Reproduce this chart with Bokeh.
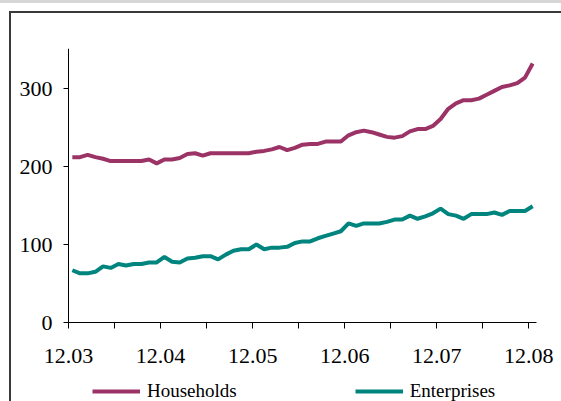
from bokeh.plotting import figure
from bokeh.models import FixedTicker, Legend, LegendItem, Range1d
from bokeh.embed import file_html
from bokeh.resources import INLINE

tick_labels = ["12.03", "12.04", "12.05", "12.06", "12.07", "12.08"]

households = [212, 212, 215, 212, 210, 207, 207, 207, 207, 207, 209, 204, 209, 209, 211, 216,
              217, 214, 217, 217, 217, 217, 217, 217, 219, 220, 222, 225, 221, 224, 228, 229,
              229, 232, 232, 232, 240, 244, 246, 244, 241, 238, 237, 239, 245, 248, 248, 252,
              261, 274, 281, 285, 285, 287, 292, 297, 302, 304, 307, 314, 332]

enterprises = [67, 63, 63, 65, 72, 70, 75, 73, 75, 75, 77, 77, 84, 78, 77, 82,
               83, 85, 85, 81, 87, 92, 94, 94, 100, 94, 96, 96, 97, 102, 104, 104,
               108, 111, 114, 117, 127, 124, 127, 127, 127, 129, 132, 132, 137, 133, 136, 140,
               146, 139, 137, 133, 139, 139, 139, 141, 138, 143, 143, 143, 149]

months = [i + 0.5 for i in range(len(households))]
N_CAT = len(households)

W, H = 561, 401
FRAME_LEFT, FRAME_TOP = 12, 48
AXIS_X0, AXIS_X1 = 68, 536
PX_X = (AXIS_X1 - AXIS_X0) / N_CAT
PX_Y = 0.78
Y_TOP = 351.3
Y_BOTTOM = Y_TOP - (H - FRAME_TOP) / PX_Y
X_LEFT = -(AXIS_X0 - FRAME_LEFT) / PX_X
X_RIGHT = N_CAT + (W - AXIS_X1) / PX_X

p = figure(width=W, height=H, output_backend="svg", toolbar_location=None,
           x_range=Range1d(X_LEFT, X_RIGHT), y_range=Range1d(Y_BOTTOM, Y_TOP),
           min_border_left=FRAME_LEFT, min_border_right=0, min_border_top=FRAME_TOP,
           min_border_bottom=0)
p.outline_line_color = None
p.xgrid.visible = False
p.ygrid.visible = False
p.background_fill_color = "white"
p.border_fill_alpha = 0
p.styles = {
    "background": ("linear-gradient(#d6d6d6, #d6d6d6) 0px 0px / 100% 3px no-repeat, "
                   "linear-gradient(#3a3a3a, #3a3a3a) 9px 11px / 2px 100% no-repeat, "
                   "linear-gradient(#3a3a3a, #3a3a3a) 9px 11px / 100% 2px no-repeat, "
                   "white")
}

r1 = p.line(months, households, line_color="#9B3366", line_width=4)
r2 = p.line(months, enterprises, line_color="#00847E", line_width=4)

font = "Liberation Serif"
ticks = list(range(0, 61, 6))
p.xaxis.fixed_location = 0
p.xaxis.bounds = (0, N_CAT)
p.xaxis.ticker = FixedTicker(ticks=ticks)
overrides = {}
for t in ticks:
    if t % 12 == 0:
        overrides[t] = tick_labels[t // 12]
    else:
        overrides[t] = ""
p.xaxis.major_label_overrides = overrides
p.xaxis.minor_tick_line_color = None
p.xaxis.major_tick_in = 0
p.xaxis.major_tick_out = 6
p.xaxis.major_label_standoff = 20

p.yaxis.fixed_location = 0
p.yaxis.bounds = (0, Y_TOP)
p.yaxis.ticker = FixedTicker(ticks=[0, 100, 200, 300])
p.yaxis.minor_tick_line_color = None
p.yaxis.major_tick_in = 0
p.yaxis.major_tick_out = 5
p.yaxis.major_label_standoff = 11

for ax in (p.xaxis, p.yaxis):
    ax.axis_line_color = "black"
    ax.major_tick_line_color = "black"
    ax.major_label_text_font = font
    ax.major_label_text_font_size = "22px"
    ax.major_label_text_color = "black"

legend = Legend(items=[LegendItem(label="Households", renderers=[r1]),
                       LegendItem(label="Enterprises", renderers=[r2])],
                orientation="horizontal", location=(92 - FRAME_LEFT, -1),
                glyph_width=48, glyph_height=18, label_standoff=7, spacing=118,
                padding=0, margin=0, border_line_color=None,
                label_text_font=font, label_text_font_size="19px",
                label_text_color="black", background_fill_alpha=0)
p.add_layout(legend)

open("out.html", "w").write(file_html(p, INLINE))
